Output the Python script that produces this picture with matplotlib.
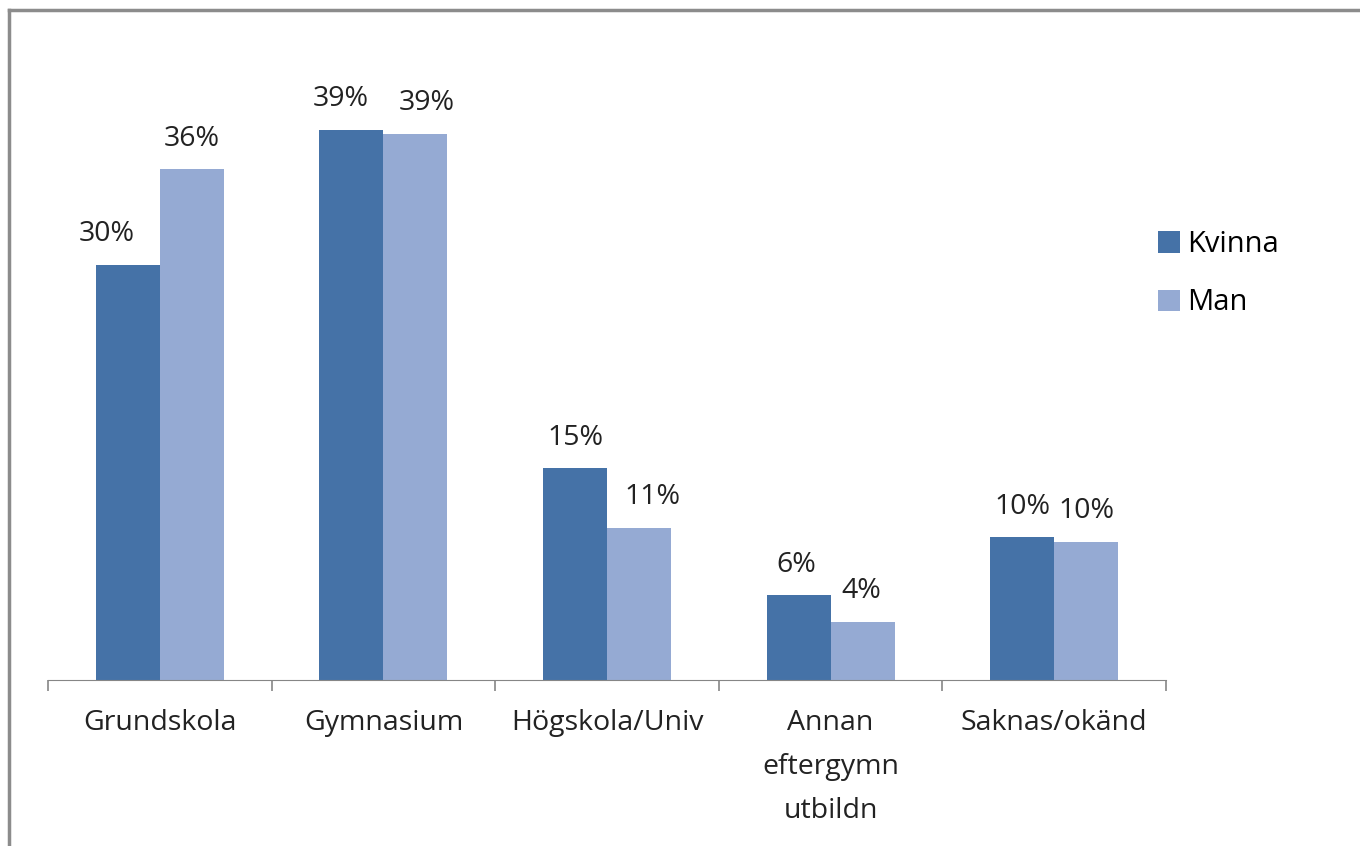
import matplotlib.pyplot as plt
import numpy as np

categories = ['Grundskola', 'Gymnasium', 'Högskola/Univ', 'Annan\neftergymn\nutbildn', 'Saknas/okänd']
kvinna = [29.4, 39.0, 15.0, 6.0, 10.1]
man = [36.2, 38.7, 10.8, 4.1, 9.8]
kvinna_labels = ['30%', '39%', '15%', '6%', '10%']
man_labels = ['36%', '39%', '11%', '4%', '10%']

plt.rcParams['font.family'] = ['Open Sans', 'DejaVu Sans']

fig = plt.figure(figsize=(13.6, 8.46), dpi=100)
ax = fig.add_axes([48/1360, (846-680)/846, (1166-48)/1360, (680-45)/846])

x = np.arange(len(categories))
w = 0.286
c1 = '#4572a7'
c2 = '#95aad3'
b1 = ax.bar(x - w/2, kvinna, w, color=c1, label='Kvinna')
b2 = ax.bar(x + w/2, man, w, color=c2, label='Man')

# small sideways nudges (points) where the labels sit off-centre in the original
nudge_k = [-15, -8, 0, -2, 0]
nudge_m = [0, 8, 10, -1, 0]
for bars, labs, nud in ((b1, kvinna_labels, nudge_k), (b2, man_labels, nudge_m)):
    for b, t, dx in zip(bars, labs, nud):
        ax.annotate(t, (b.get_x() + b.get_width()/2, b.get_height()),
                    xytext=(dx, 12), textcoords='offset points',
                    ha='center', va='bottom', fontsize=20.5, color='#222222')

ax.set_xlim(-0.5, len(categories) - 0.5)
ax.set_ylim(0, 45)
for s in ['top', 'right', 'left']:
    ax.spines[s].set_visible(False)
ax.spines['bottom'].set_color('#868686')
ax.set_yticks([])
ax.set_xticks(np.arange(len(categories) + 1) - 0.5)
ax.set_xticklabels([])
ax.tick_params(axis='x', length=8, color='#868686', width=1.2)
ax.set_xticks(x, minor=True)
ax.set_xticklabels(categories, minor=True, fontsize=20.5, color='#222222', linespacing=1.75)
ax.tick_params(axis='x', which='minor', length=0, pad=21)

ax.legend(loc='upper left', bbox_to_anchor=(1132/1360, 1 - 204/846), bbox_transform=fig.transFigure,
          frameon=False, fontsize=21, handlelength=0.75, handleheight=0.75,
          handletextpad=0.25, labelspacing=1.0)

# chart frame (left and top edges)
fig.add_artist(plt.Line2D([9/1360, 9/1360], [0, 1 - 10/846], color='#8c8c8c', lw=2.5))
fig.add_artist(plt.Line2D([9/1360, 1], [1 - 10/846, 1 - 10/846], color='#8c8c8c', lw=2.5))

fig.savefig('out.png', dpi=100)
